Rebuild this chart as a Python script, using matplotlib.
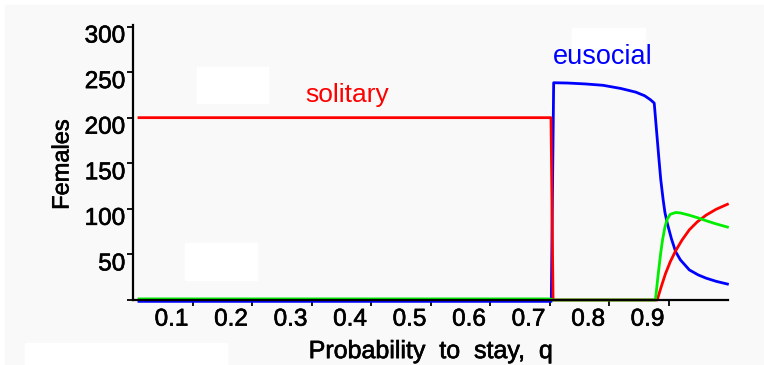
import matplotlib.pyplot as plt
import matplotlib.transforms as mtransforms
import matplotlib.patheffects as pe
from matplotlib.patches import Rectangle

# solitary females (red)
q_sol = [0.01, 0.7025, 0.706, 0.881, 0.888, 0.895, 0.903, 0.912, 0.923,
         0.935, 0.948, 0.963, 0.98, 0.999]
sol = [200, 200, 0, 0, 15, 29, 42, 54, 66, 77, 85.5, 93, 99.5, 105]

# eusocial females (blue)
q_eus = [0.01, 0.700, 0.703, 0.707, 0.73, 0.76, 0.79, 0.82, 0.845, 0.86,
         0.87, 0.876, 0.880, 0.884, 0.887, 0.891, 0.894, 0.898, 0.905,
         0.912, 0.92, 0.935, 0.95, 0.963, 0.98, 0.999]
eus = [-1.5, -1.5, -1.5, 238.3, 238, 237, 235.5, 232, 228, 224,
       219.5, 216, 185, 154, 132, 110, 96, 84, 67,
       53, 44, 33, 27.5, 24, 20.5, 17.5]

# third type (green)
q_grn = [0.01, 0.70, 0.706, 0.878, 0.883, 0.887, 0.890, 0.894, 0.898,
         0.903, 0.912, 0.92, 0.935, 0.95, 0.963, 0.98, 0.999]
grn = [1.2, 1.2, 0, 0, 30, 52, 66, 80, 89, 94, 96, 95.5, 93, 90, 87, 83.5, 80]

xticks = [0.1, 0.2, 0.3, 0.4, 0.5, 0.6, 0.7, 0.8, 0.9]
yticks = [0, 50, 100, 150, 200, 250, 300]
ytick_labels = ['', '50', '100', '150', '200', '250', '300']

W, H = 764, 365
fig = plt.figure(figsize=(W / 100, H / 100), dpi=100)
fig.patch.set_facecolor('white')

# gray page background and the white blocks on it
fig.patches.append(Rectangle((5 / W, 0), (W - 5) / W, (H - 5) / H,
                             transform=fig.transFigure, color='#f9f9f9', zorder=-10))
for (x0, y0, x1, y1) in [(197, 67, 268, 103), (185, 243, 257, 280),
                         (25, 343, 227, 365), (572, 28, 645, 68)]:
    fig.patches.append(Rectangle((x0 / W, 1 - y1 / H), (x1 - x0) / W, (y1 - y0) / H,
                                 transform=fig.transFigure, color='white', zorder=-9))

ax = fig.add_axes([133 / W, 1 - 300 / H, (728 - 133) / W, (300 - 26.5) / H])
ax.patch.set_visible(False)

ax.plot(q_eus, eus, color='#0000ff', lw=2, clip_on=False)
ax.plot(q_sol, sol, color='#ff0000', lw=2, clip_on=False)
ax.plot(q_grn, grn, color='#00ee00', lw=2, clip_on=False)

bold = [pe.withStroke(linewidth=0.45, foreground='black')]

ax.text(0.36, 225, 'solitary', color='#ff0000', fontsize=19,
        family='Liberation Sans', ha='center', va='center')
ax.text(0.79, 266, 'eusocial', color='#0000ff', fontsize=19.5,
        family='Liberation Sans', ha='center', va='center')

ax.set_xlim(0, 1)
ax.set_ylim(0, 300)
for s in ['top', 'right']:
    ax.spines[s].set_visible(False)
for s in ['left', 'bottom']:
    ax.spines[s].set_linewidth(1.6)
ax.spines['left'].set_bounds(0, 302)

ax.set_xticks(xticks)
ax.set_xticklabels([f'{t:.1f}' for t in xticks])
ax.set_yticks(yticks)
ax.set_yticklabels(ytick_labels)
ax.tick_params(direction='out', length=4.5, width=1.3, labelsize=17.5, pad=1)

for lab in ax.get_xticklabels():
    lab.set_family('Liberation Sans')
    lab.set_ha('right')
    lab.set_path_effects(bold)
    lab.set_transform(lab.get_transform() +
                      mtransforms.ScaledTranslation(-4 / 100, -1 / 100, fig.dpi_scale_trans))
for lab in ax.get_yticklabels():
    lab.set_family('Liberation Sans')
    lab.set_va('top')
    lab.set_path_effects(bold)
    lab.set_transform(lab.get_transform() +
                      mtransforms.ScaledTranslation(0, 1 / 100, fig.dpi_scale_trans))

ax.set_xlabel('Probability  to  stay,  q', fontsize=18, family='Liberation Sans',
              path_effects=bold)
ax.xaxis.set_label_coords(0.5, -0.143)
ax.set_ylabel('Females', fontsize=17, family='Liberation Sans', path_effects=bold)
ax.yaxis.set_label_coords(-0.1, 0.495)

fig.savefig('out.png', dpi=100, facecolor=fig.get_facecolor())
